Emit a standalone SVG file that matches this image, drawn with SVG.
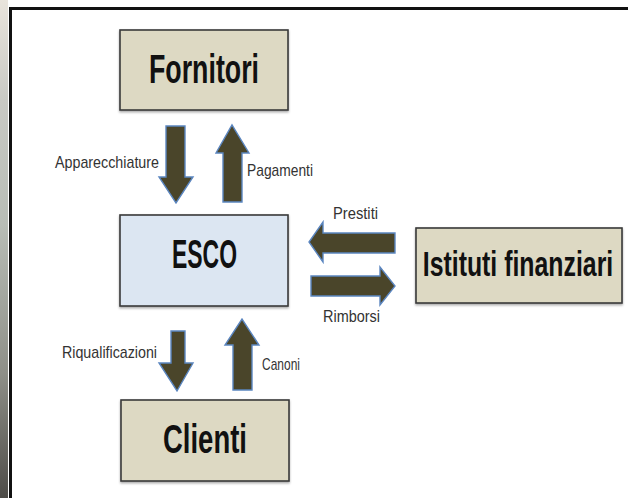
<svg xmlns="http://www.w3.org/2000/svg" width="628" height="498" viewBox="0 0 628 498">
<style>
.box{stroke:#3a3a3a;stroke-width:1.6}
.tan{fill:#ddd9c3}
.blue{fill:#dce6f2}
.big{font-family:"Liberation Sans",Arial,sans-serif;font-weight:bold;fill:#111;text-anchor:middle}
.lbl{font-family:"Liberation Sans",Arial,sans-serif;fill:#333;font-size:17px}
.arr{fill:#4a452a;stroke:#5b86c0;stroke-width:1.4;stroke-linejoin:miter}
</style>
<defs>
<linearGradient id="strip" x1="0" y1="0" x2="0" y2="1">
<stop offset="0" stop-color="#e9e4dc"/>
<stop offset="0.2" stop-color="#c9c9c4"/>
<stop offset="0.45" stop-color="#b8bdb6"/>
<stop offset="0.75" stop-color="#8e8f88"/>
<stop offset="1" stop-color="#4e4c48"/>
</linearGradient>
<filter id="sh" x="-5%" y="-5%" width="110%" height="115%">
<feDropShadow dx="0" dy="1.5" stdDeviation="1" flood-color="#000" flood-opacity="0.35"/>
</filter>
</defs>
<rect x="0" y="0" width="628" height="498" fill="#fff"/>
<rect x="0" y="0" width="8" height="498" fill="url(#strip)"/>
<rect x="8" y="0" width="620" height="7" fill="#fff"/>
<path d="M10.5,498 V8.5 H628" fill="none" stroke="#111" stroke-width="3"/>

<g id="fornitori">
<rect class="box tan" x="120" y="30" width="168" height="80" filter="url(#sh)"/>
<text class="big" x="204" y="83" font-size="40" textLength="110" lengthAdjust="spacingAndGlyphs">Fornitori</text>
</g>
<g id="esco">
<rect class="box blue" x="120" y="215" width="168" height="91" filter="url(#sh)"/>
<text class="big" x="204.5" y="268" font-size="40" textLength="65" lengthAdjust="spacingAndGlyphs">ESCO</text>
</g>
<g id="clienti">
<rect class="box tan" x="121" y="400" width="168" height="81" filter="url(#sh)"/>
<text class="big" x="205" y="453" font-size="41" textLength="84" lengthAdjust="spacingAndGlyphs">Clienti</text>
</g>
<g id="istituti">
<rect class="box tan" x="416" y="228" width="206" height="75" filter="url(#sh)"/>
<text class="big" transform="translate(518,276) scale(0.71,1)" x="0" y="0" font-size="35">Istituti finanziari</text>
</g>

<g id="connectors">
<polygon class="arr" points="166,126 185,126 185,177 193,177 176,203 159,177 166,177"/>
<polygon class="arr" points="223,202 242,202 242,153 249,153 232,125 216,153 223,153"/>
<polygon class="arr" points="171,331 185,331 185,363 193,363 177,391 159,363 171,363"/>
<polygon class="arr" points="233,390 252,390 252,345 259,345 242,319 225,345 233,345"/>
<polygon class="arr" points="395,233 395,253 323,253 323,262 309,242 323,222 323,233"/>
<polygon class="arr" points="311,276 380,276 380,267 395,286 380,305 380,296 311,296"/>
<text class="lbl" x="55" y="168" textLength="104" lengthAdjust="spacingAndGlyphs">Apparecchiature</text>
<text class="lbl" x="247" y="176" textLength="66" lengthAdjust="spacingAndGlyphs">Pagamenti</text>
<text class="lbl" x="62" y="358" textLength="95" lengthAdjust="spacingAndGlyphs">Riqualificazioni</text>
<text class="lbl" x="262" y="370" textLength="38" lengthAdjust="spacingAndGlyphs">Canoni</text>
<text class="lbl" x="333" y="219" textLength="45" lengthAdjust="spacingAndGlyphs">Prestiti</text>
<text class="lbl" x="323" y="322" textLength="57" lengthAdjust="spacingAndGlyphs">Rimborsi</text>
</g>
</svg>
